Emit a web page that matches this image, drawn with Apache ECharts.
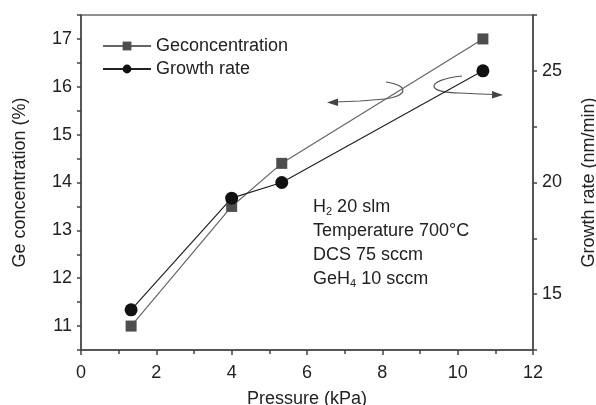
<!DOCTYPE html>
<html>
<head>
<meta charset="utf-8">
<script src="https://cdn.jsdelivr.net/npm/echarts@6/dist/echarts.min.js"></script>
<style>
  html, body { margin: 0; padding: 0; background: #fff; }
  #chart { width: 596px; height: 405px; }
</style>
</head>
<body>
<div id="chart"></div>
<script>
// 数据 (pressure in kPa)
const pressure = [1.33, 4.0, 5.33, 10.67];
const geConc = [11.0, 13.5, 14.4, 17.0];
const growthRate = [14.3, 19.3, 20.0, 25.0];
const seriesNames = ["Geconcentration", "Growth rate"];
const conditions = ["H2 20 slm", "Temperature 700°C", "DCS 75 sccm", "GeH4 10 sccm"];

const font = "Liberation Sans, Arial, sans-serif";
const axisColor = "#444";
const textColor = "#222";
const fs = 18;

function pairs(ys) {
  return pressure.map(function (p, i) { return [p, ys[i]]; });
}

// 把 H2 / GeH4 的数字变成下标
function richLine(s) {
  return s.replace(/([A-Za-z])(\d)(?= )/, "$1{s|$2}");
}

const chart = echarts.init(document.getElementById("chart"));
const option = {
  animation: false,
  textStyle: { fontFamily: font },
  grid: {
    left: 81, right: 63, top: 15, bottom: 55,
    containLabel: false, outerBoundsMode: "none",
    show: true, borderColor: "#222", borderWidth: 1
  },
  legend: {
    orient: "vertical",
    left: 97, top: 32,
    itemWidth: 48, itemHeight: 11, itemGap: 5,
    data: seriesNames,
    textStyle: { fontFamily: font, fontSize: fs, color: textColor }
  },
  xAxis: {
    type: "value",
    min: 0, max: 12, interval: 2,
    name: "Pressure (kPa)",
    nameLocation: "middle", nameGap: 40,
    nameTextStyle: { fontFamily: font, fontSize: fs, color: textColor },
    axisLine: { lineStyle: { color: axisColor, width: 1.5 } },
    axisTick: { length: 5, lineStyle: { color: axisColor, width: 1.5 } },
    minorTick: { show: true, splitNumber: 2, length: 4, lineStyle: { color: axisColor, width: 1.5 } },
    axisLabel: { fontFamily: font, fontSize: fs, color: textColor, margin: 14 },
    splitLine: { show: false }
  },
  yAxis: [
    {
      type: "value",
      position: "left",
      min: 10.5, max: 17.5, interval: 0.5,
      name: "Ge concentration (%)",
      nameLocation: "middle", nameGap: 52, nameRotate: 90,
      nameTextStyle: { fontFamily: font, fontSize: fs, color: textColor },
      axisLine: { show: true, lineStyle: { color: axisColor, width: 1.5 } },
      axisTick: { show: true, length: 4, lineStyle: { color: axisColor, width: 1.5 } },
      axisLabel: {
        fontFamily: font, fontSize: fs, color: textColor, margin: 9,
        formatter: function (v) { return Number.isInteger(v) ? String(v) : ""; }
      },
      splitLine: { show: false }
    },
    {
      type: "value",
      position: "right",
      min: 12.5, max: 27.5, interval: 2.5,
      name: "Growth rate (nm/min)",
      nameLocation: "middle", nameGap: 47, nameRotate: 90,
      nameTextStyle: { fontFamily: font, fontSize: fs, color: textColor },
      axisLine: { show: true, lineStyle: { color: axisColor, width: 1.5 } },
      axisTick: { show: true, length: 4, lineStyle: { color: axisColor, width: 1.5 } },
      axisLabel: {
        fontFamily: font, fontSize: fs, color: textColor, margin: 9,
        formatter: function (v) { return v % 5 === 0 ? String(v) : ""; }
      },
      splitLine: { show: false }
    }
  ],
  series: [
    {
      name: seriesNames[0],
      type: "line",
      yAxisIndex: 0,
      data: pairs(geConc),
      symbol: "rect", symbolSize: 11,
      itemStyle: { color: "#4d4d4d" },
      lineStyle: { color: "#666", width: 1.2 }
    },
    {
      name: seriesNames[1],
      type: "line",
      yAxisIndex: 1,
      data: pairs(growthRate),
      symbol: "circle", symbolSize: 13,
      itemStyle: { color: "#111" },
      lineStyle: { color: "#222", width: 1.2 }
    }
  ],
  graphic: [
    {
      type: "text",
      left: 313, top: 195,
      style: {
        text: conditions.map(richLine).join("\n"),
        fontFamily: font, fontSize: fs, lineHeight: 24, fill: textColor,
        rich: {
          s: { fontSize: 11, fontFamily: font, fill: textColor, padding: [9, 0, 0, 0], lineHeight: 24 }
        }
      }
    },
    // 左箭头 (指向左轴)
    {
      type: "bezierCurve",
      shape: { x1: 386, y1: 82, cpx1: 412, cpy1: 86, cpx2: 405, cpy2: 97, x2: 385, y2: 99 },
      style: { stroke: "#555", lineWidth: 1.2, fill: null }
    },
    {
      type: "polyline",
      shape: { points: [[385, 99], [360, 101], [335, 102]] },
      style: { stroke: "#555", lineWidth: 1.2, fill: null }
    },
    {
      type: "polygon",
      shape: { points: [[327, 102.5], [338, 98.5], [338, 106]] },
      style: { fill: "#444" }
    },
    // 右箭头 (指向右轴)
    {
      type: "bezierCurve",
      shape: { x1: 462, y1: 76, cpx1: 425, cpy1: 80, cpx2: 425, cpy2: 93, x2: 460, y2: 93 },
      style: { stroke: "#555", lineWidth: 1.2, fill: null }
    },
    {
      type: "polyline",
      shape: { points: [[460, 93], [480, 94], [494, 94.5]] },
      style: { stroke: "#555", lineWidth: 1.2, fill: null }
    },
    {
      type: "polygon",
      shape: { points: [[503, 95], [492, 91], [492, 98.5]] },
      style: { fill: "#444" }
    }
  ]
};
chart.setOption(option);
</script>
</body>
</html>
